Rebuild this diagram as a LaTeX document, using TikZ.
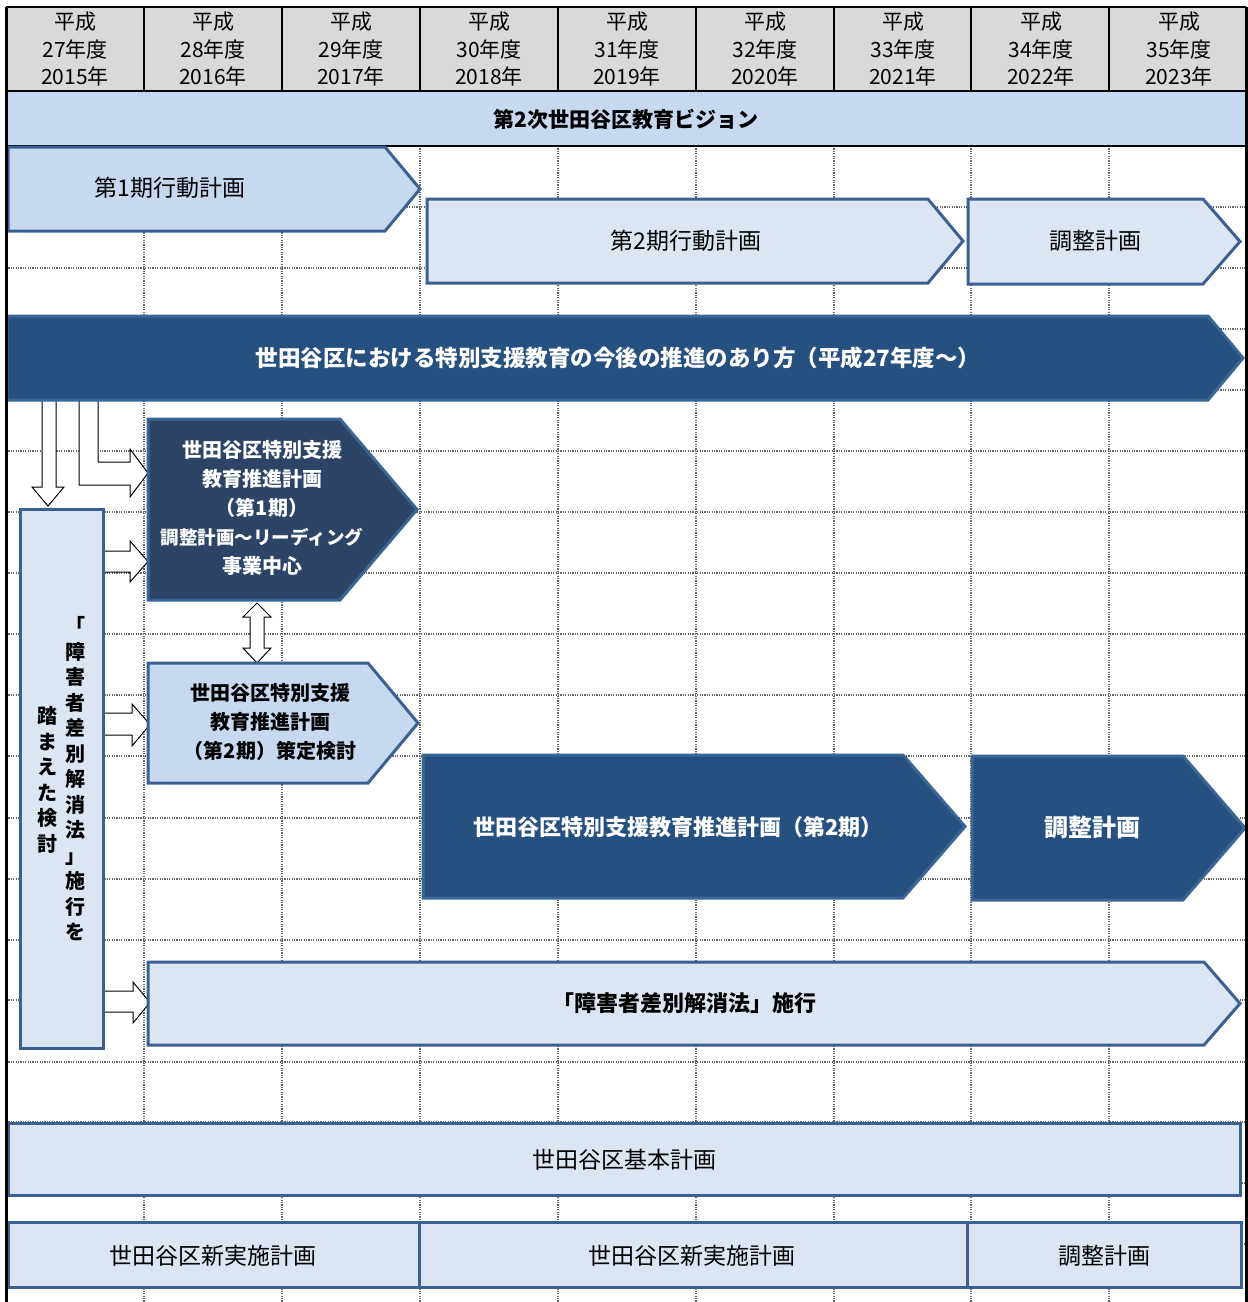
\documentclass[tikz,border=0pt]{standalone}
\usepackage{fontspec}
\setmainfont{Noto Sans CJK JP}
\definecolor{hdrgray}{HTML}{D9D9D9}
\definecolor{visionblue}{HTML}{C6D9F0}
\definecolor{lightfill}{HTML}{DCE6F2}
\definecolor{midfill}{HTML}{C6D9F0}
\definecolor{edgeblue}{HTML}{3B6093}
\definecolor{darkfill}{HTML}{25507F}
\definecolor{darkedge}{HTML}{3A6695}
\definecolor{navyfill}{HTML}{2C4566}
\definecolor{gridgray}{HTML}{666666}
\newcommand\pentshape[6]{\draw[#1] (#2,#3) -- (#5,#3) -- (#4,{(#3+#6)/2}) -- (#5,#6) -- (#2,#6) -- cycle;}
\tikzset{
  gridline/.style={draw=gridgray, dash pattern=on 1.2pt off 1.2pt, line width=1.2pt},
  lightbox/.style={line width=3pt, draw=edgeblue, fill=lightfill, line join=miter},
  midbox/.style={line width=3pt, draw=edgeblue, fill=midfill, line join=miter},
  darkbox/.style={line width=3pt, draw=darkedge, fill=darkfill, line join=miter},
  navybox/.style={line width=3pt, draw=darkedge, fill=navyfill, line join=miter},
  blockarrow/.style={fill=white, draw=black, line width=1pt, line join=miter},
  hdr/.style={inner sep=0pt, align=center, font=\fontsize{21}{27.5}\selectfont},
  txt/.style={inner sep=0pt, align=center, font=\fontsize{23}{28}\selectfont},
  btxt/.style={inner sep=0pt, align=center, font=\bfseries\fontsize{22}{28}\selectfont},
  stxt/.style={inner sep=0pt, align=center, font=\bfseries\fontsize{20}{29}\selectfont},
  vtxt/.style={inner sep=0pt, align=center, font=\bfseries\fontsize{20}{25.5}\selectfont},
}
\begin{document}
\begin{tikzpicture}[x=1pt,y=-1pt]
\useasboundingbox (0,0) rectangle (1248,1302);
\fill[white] (0,0) rectangle (1248,1302);
% grid
\foreach \yy in {207,268,329,390,451,512,573,634,695,756,818,879,940,1000,1062,1122,1183,1244}
  \draw[gridline] (6,\yy) -- (1246,\yy);
\foreach \xx in {144,282,420,558,696,834,971,1109}
  \draw[gridline] (\xx,146) -- (\xx,1302);
% header
\fill[hdrgray] (6,7) rectangle (1246,91);
\fill[visionblue] (6,91) rectangle (1246,146);
\draw[line width=1.6pt] (6,7) -- (1246,7) (6,91) -- (1246,91) (6,146) -- (1246,146);
\foreach \xx in {144,282,420,558,696,834,971,1109}
  \draw[line width=1.6pt] (\xx,7) -- (\xx,91);
\foreach \i/\a/\b in {0/27/2015,1/28/2016,2/29/2017,3/30/2018,4/31/2019,5/32/2020,6/33/2021,7/34/2022,8/35/2023}
  \node[hdr] (h\i) at ({75+138*\i},49.5) {平成\\\a{}年度\\\b{}年};
\node[btxt, font=\bfseries\fontsize{21}{26}\selectfont] (vision) at (626,119) {第2次世田谷区教育ビジョン};
% block arrows
\draw[blockarrow] (42,400) -- (42,487) -- (32,487) -- (48,506) -- (64,487) -- (56,487) -- (56,400) -- cycle;
\draw[blockarrow] (79,400) -- (79,485) -- (130,485) -- (130,497) -- (148,473) -- (130,449) -- (130,462) -- (98,462) -- (98,400) -- cycle;
\draw[blockarrow] (103,551) -- (130,551) -- (130,541) -- (148,561.5) -- (130,582) -- (130,572) -- (103,572) -- cycle;
\draw[blockarrow] (103,713) -- (132,713) -- (132,704) -- (150,724.5) -- (132,746) -- (132,735) -- (103,735) -- cycle;
\draw[blockarrow] (103,991) -- (133,991) -- (133,982) -- (150,1002.5) -- (133,1023) -- (133,1012) -- (103,1012) -- cycle;
\draw[blockarrow] (257,603) -- (271,617) -- (264,617) -- (264,648) -- (271,648) -- (257,663) -- (243,648) -- (250,648) -- (250,617) -- (243,617) -- cycle;
% shapes
\pentshape{midbox}{8}{147}{420}{385}{231}
\pentshape{lightbox}{427}{199}{963}{928}{283}
\pentshape{lightbox}{968}{199}{1240}{1203}{284}
\pentshape{darkbox}{7}{316}{1243}{1208}{400}
\pentshape{navybox}{148}{419}{417}{340}{600}
\pentshape{midbox}{148}{663}{418}{368}{783}
\pentshape{darkbox}{423}{755}{965}{903}{898}
\pentshape{darkbox}{972}{756}{1245}{1183}{900}
\pentshape{lightbox}{148}{962}{1240}{1204}{1045}
\draw[lightbox] (20,509) rectangle (103,1048);
\draw[lightbox] (8,1123) rectangle (1240,1195);
\draw[lightbox] (8,1222) rectangle (419,1287);
\draw[lightbox] (419,1222) rectangle (967,1287);
\draw[lightbox] (967,1222) rectangle (1241,1287);
% texts
\node[txt] (t1) at (170,188) {第1期行動計画};
\node[txt] (t2) at (686,241) {第2期行動計画};
\node[txt] (t3) at (1095,241) {調整計画};
\node[btxt, text=white, font=\bfseries\fontsize{22.5}{28}\selectfont] (t4) at (618,358) {世田谷区における特別支援教育の今後の推進のあり方（平成27年度〜）};
\node[stxt, text=white] (t5) at (262,508) {世田谷区特別支援\\教育推進計画\\（第1期）\\{\fontsize{18.5}{29}\selectfont 調整計画〜リーディング}\\事業中心};
\node[stxt] (t6) at (270,722) {世田谷区特別支援\\教育推進計画\\（第2期）策定検討};
\node[btxt, text=white] (t7) at (678,827) {世田谷区特別支援教育推進計画（第2期）};
\node[btxt, text=white, font=\bfseries\fontsize{24}{28}\selectfont] (t8) at (1092,827) {調整計画};
\node[btxt] (t9) at (684,1003) {「障害者差別解消法」施行};
\node[txt] (t10) at (624,1160) {世田谷区基本計画};
\node[txt] (t11) at (213,1256) {世田谷区新実施計画};
\node[txt] (t12) at (692,1256) {世田谷区新実施計画};
\node[txt] (t13) at (1104,1256) {調整計画};
\node[vtxt] (v1) at (75,779) {「\\障\\害\\者\\差\\別\\解\\消\\法\\」\\施\\行\\を};
\node[vtxt] (v2) at (47,780) {踏\\ま\\え\\た\\検\\討};
% borders
\draw[line width=3pt] (6,7) -- (6,1302);
\draw[line width=3pt] (1246,7) -- (1246,1302);
\end{tikzpicture}
\end{document}
